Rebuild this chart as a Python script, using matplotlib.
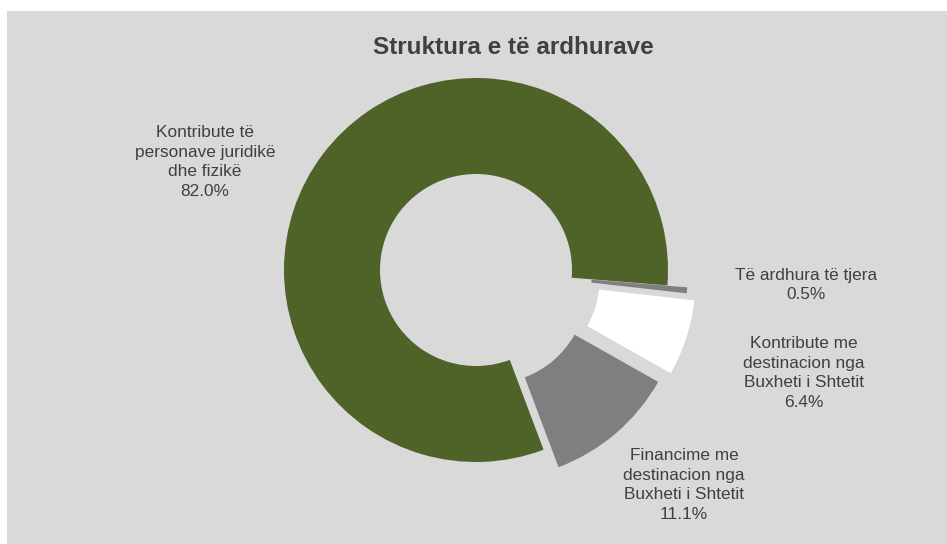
import matplotlib.pyplot as plt
from matplotlib.patches import Rectangle

plt.rcParams['font.family'] = ['Liberation Sans', 'DejaVu Sans']

# data
labels = ['Kontribute të\npersonave juridikë\ndhe fizikë',
          'Të ardhura të tjera',
          'Kontribute me\ndestinacion nga\nBuxheti i Shtetit',
          'Financime me\ndestinacion nga\nBuxheti i Shtetit']
values = [82.0, 0.5, 6.4, 11.1]
colors = ['#4F6228', '#7F7F7F', '#FFFFFF', '#7F7F7F']

# explosion in pixels (pie works in pixel units here)
explode = [0.0, 20, 29, 23]
# label centres in pixels (x from left, y from top)
label_pos = [(205, 162), (806, 285), (804, 373), (684, 485)]

W, H = 947, 544
fig = plt.figure(figsize=(W / 100, H / 100), dpi=100)
fig.patch.set_facecolor('white')

ax = fig.add_axes([0, 0, 1, 1])
ax.set_facecolor('none')
ax.axis('off')
ax.add_patch(Rectangle((7, 0), W - 7, H - 11, facecolor='#D9D9D9',
                       edgecolor='none', zorder=0))

ax.pie(values, colors=colors, explode=explode, startangle=90 - 159.4,
       counterclock=False, center=(476, H - 270), radius=192,
       wedgeprops=dict(width=96, edgecolor='none'))
ax.set_xlim(0, W)
ax.set_ylim(0, H)

for lab, v, (x, y) in zip(labels, values, label_pos):
    ax.text(x, H - y, f'{lab}\n{v:.1f}%', ha='center', va='center',
            fontsize=12.4, color='#404040', linespacing=1.38)

ax.text(513, H - 47, 'Struktura e të ardhurave', ha='center', va='center',
        fontsize=17.5, fontweight='bold', color='#404040')

fig.savefig('out.png', dpi=100, facecolor=fig.get_facecolor())
